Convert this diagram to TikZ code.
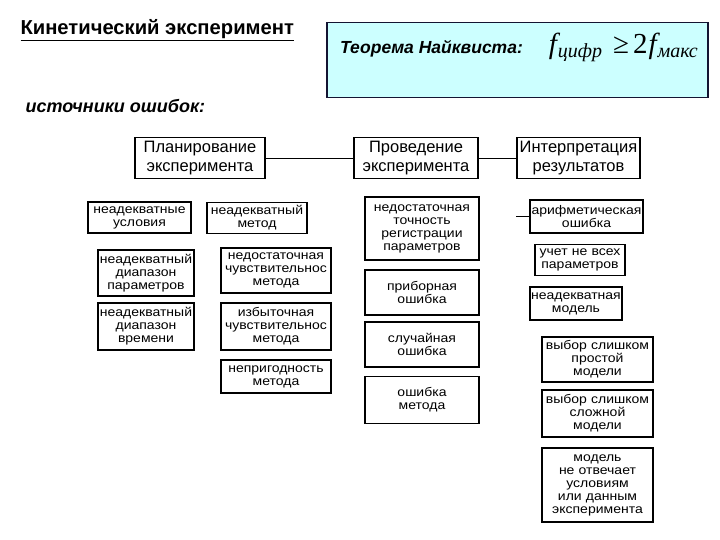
\documentclass[tikz,border=0pt]{standalone}
\usepackage{fontspec}
\setmainfont{Liberation Sans}
\newfontfamily\boxfont[FakeStretch=1.12]{Liberation Sans}
\newfontfamily\serifmath{Liberation Serif}
\usetikzlibrary{positioning}
\definecolor{nyqfill}{RGB}{204,255,255}
\definecolor{nyqedge}{RGB}{20,20,50}
\tikzstyle{stage}  = [draw, line width=1.2pt, align=center, inner sep=0pt, minimum height=41pt, font=\fontsize{16.5}{19}\selectfont]
\tikzstyle{errbox} = [draw, line width=1.2pt, align=center, inner sep=0pt, font=\boxfont\fontsize{12.5}{13}\selectfont]
\tikzstyle{link}   = [line width=0.8pt]

\begin{document}
\begin{tikzpicture}[x=1pt,y=-1pt]
        \useasboundingbox (0,0) rectangle (720,540);

        \node[anchor=west, font=\bfseries\fontsize{20.2}{23}\selectfont] (title) at (17,30) {\underline{Кинетический эксперимент}};
        \node[draw=nyqedge, line width=1.3pt, fill=nyqfill, minimum width=381pt, minimum height=75pt] (nyquist) at (517.5,60) {};
        \node[anchor=west, inner sep=0pt] (nyqtext) at (340,47)
            {{\bfseries\itshape\fontsize{17.5}{20}\selectfont Теорема Найквиста:}\hspace{26pt}{\serifmath\fontsize{29}{32}\selectfont\itshape f\kern1pt\raisebox{-4pt}{\fontsize{20}{20}\selectfont цифр}\kern11pt\upshape ≥\kern4pt 2\kern1pt\itshape f\kern1pt\raisebox{-4pt}{\fontsize{20}{20}\selectfont макс}}};
        \node[anchor=west, font=\bfseries\itshape\fontsize{18}{21}\selectfont] (sources) at (22,106) {источники ошибок:};

        % этапы
        \node[stage, text width=130pt] (plan)   at (200,158)   {Планирование\\эксперимента};
        \node[stage, text width=124pt] (run)    at (416,158)   {Проведение\\эксперимента};
        \node[stage, text width=123pt] (interp) at (578.5,158) {Интерпретация\\результатов};
        \draw[link] (plan) -- (run);
        \draw[link] (run) -- (interp);

        % планирование
        \node[errbox, text width=103pt, minimum height=31pt] (condit)   at (139.5,217.5) {неадекватные\\условия};
        \node[errbox, text width=96pt,  minimum height=46pt] (parrange) at (146,273)     {неадекватный\\диапазон\\параметров};
        \node[errbox, text width=96pt,  minimum height=47pt] (timerange) at (146,326.5)  {неадекватный\\диапазон\\времени};
        \node[errbox, text width=100pt, minimum height=31pt] (method)   at (257,218)     {неадекватный\\метод};
        \node[errbox, text width=110pt, minimum height=45pt] (lowsens)  at (276,270.5)   {недостаточная\\чувствительнос\\метода};
        \node[errbox, text width=110pt, minimum height=47pt] (highsens) at (276,326.5)   {избыточная\\чувствительнос\\метода};
        \node[errbox, text width=110pt, minimum height=33pt] (unfit)    at (276,376.5)   {непригодность\\метода};

        % проведение
        \node[errbox, text width=114pt, minimum height=63pt] (accuracy) at (422,228.5) {недостаточная\\точность\\регистрации\\параметров};
        \node[errbox, text width=114pt, minimum height=45pt] (device)   at (422,292.5) {приборная\\ошибка};
        \node[errbox, text width=114pt, minimum height=45pt] (random)   at (422,344.5) {случайная\\ошибка};
        \node[errbox, text width=114pt, minimum height=47pt] (methoderr) at (422,400)  {ошибка\\метода};

        % интерпретация
        \node[errbox, text width=113pt, minimum height=33pt] (arith)    at (586.5,216.5) {арифметическая\\ошибка};
        \coordinate (arithtail) at (516,216.5);
        \draw[link] (arithtail) -- (arith);
        \node[errbox, text width=90pt,  minimum height=31pt] (notall)   at (580,260)   {учет не всех\\параметров};
        \node[errbox, text width=92pt,  minimum height=33pt] (badmodel) at (576,303.5) {неадекватная\\модель};
        \node[errbox, text width=111pt, minimum height=45pt] (simple)   at (597.5,359.5) {выбор слишком\\простой\\модели};
        \node[errbox, text width=111pt, minimum height=47pt] (complex)  at (597.5,413.5) {выбор слишком\\сложной\\модели};
        \node[errbox, text width=111pt, minimum height=74pt] (mismatch) at (597.5,485)   {модель\\не отвечает\\условиям\\или данным\\эксперимента};
\end{tikzpicture}
\end{document}
